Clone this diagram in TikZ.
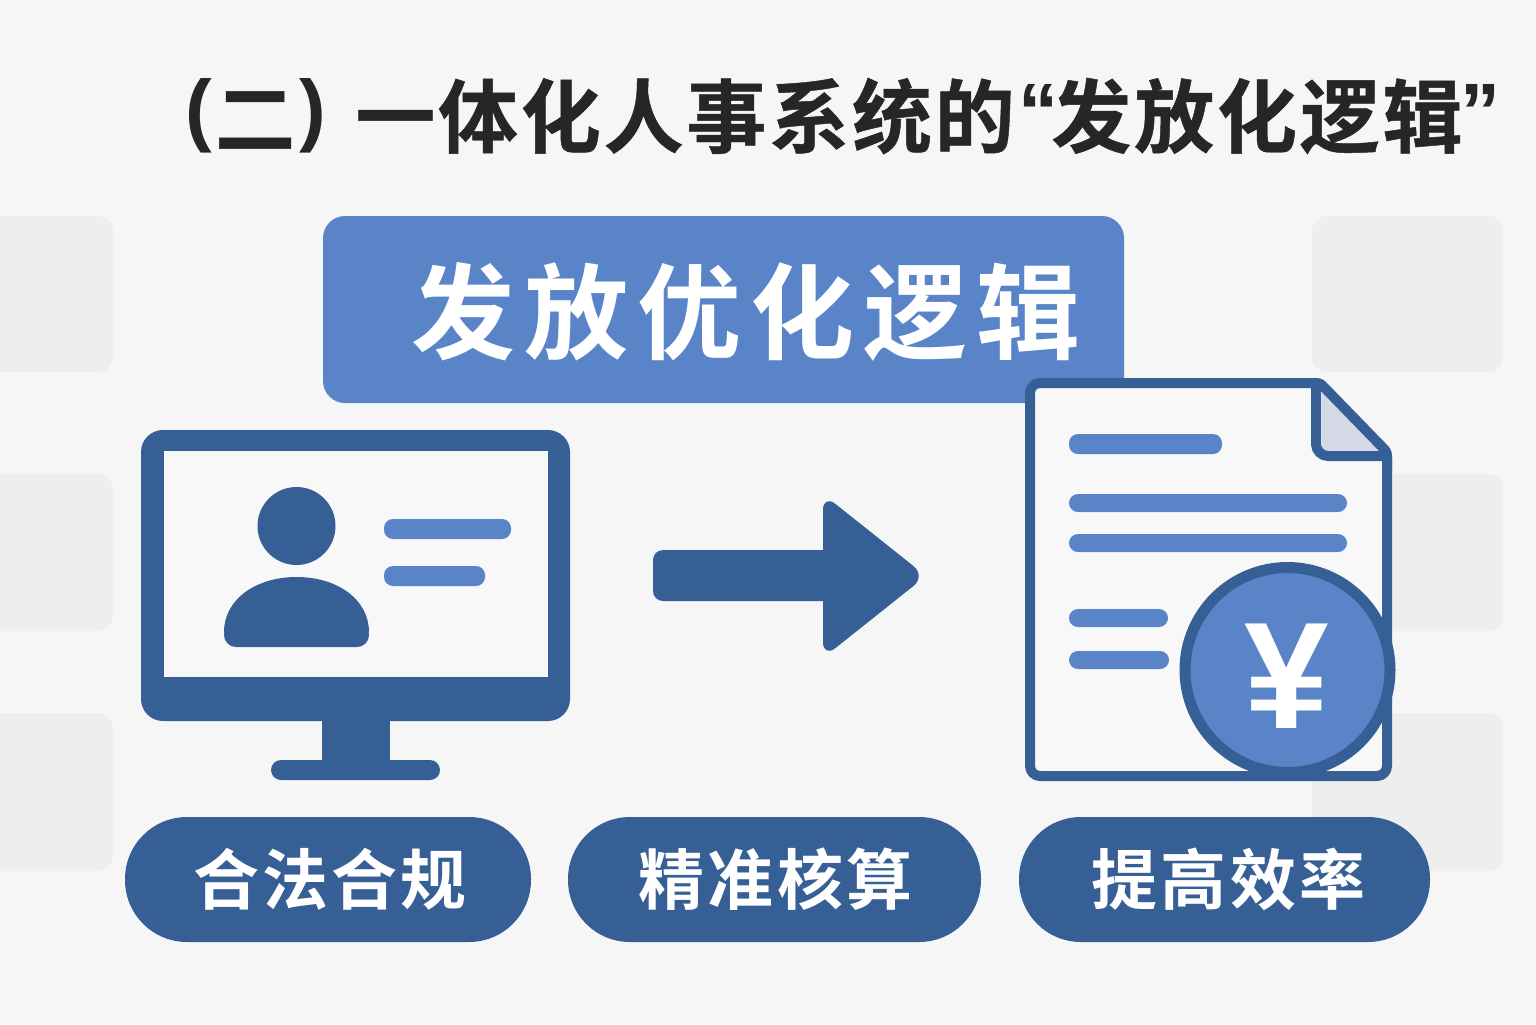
\documentclass[tikz,border=0pt]{standalone}
\usepackage{fontspec}
\setmainfont{Noto Sans CJK SC}[BoldFont={Noto Sans CJK SC Bold}]
\newfontfamily\cjkb{Noto Sans CJK SC Bold}
\newfontfamily\latb{Liberation Sans}
\definecolor{bgc}{HTML}{F6F6F6}
\definecolor{navy}{HTML}{365F96}
\definecolor{midblue}{HTML}{5A84C8}
\definecolor{ghost}{HTML}{EEEEEE}
\definecolor{titlec}{HTML}{262626}
\definecolor{foldc}{HTML}{D5D9E6}
\definecolor{paper}{HTML}{F8F8F8}
\tikzset{
  ghostbox/.style={fill=ghost,rounded corners=7.5pt},
  pill/.style={fill=navy,rounded corners=31pt,text=white,minimum height=62.5pt,inner sep=0pt},
  bar/.style={fill=midblue,rounded corners=4.5pt},
  titletext/.style={text=titlec,inner sep=0pt,anchor=center},
}
\newcommand{\ttlfont}{\fontsize{40pt}{40pt}\cjkb\addfontfeature{LetterSpace=3.5,FakeBold=0.6}}
\newcommand{\ttllat}{\fontsize{40pt}{40pt}\latb\bfseries}
\newcommand{\pillfont}{\fontsize{33pt}{33pt}\cjkb\addfontfeature{LetterSpace=5}}
\begin{document}
\begin{tikzpicture}[x=0.5pt,y=-0.5pt]
\useasboundingbox (0,0) rectangle (1536,1024);
\fill[bgc] (0,0) rectangle (1536,1024);
% ghost panels
\foreach \y/\h in {216/372,474/631,713/871}{
  \fill[ghostbox] (-30,\y) rectangle (113,\h);
  \fill[ghostbox] (1312,\y) rectangle (1503,\h);
}
% title
\node[titletext] (tp1) at (199,116) {\ttllat (};
\node[titletext] (t2) at (255,120) {\ttlfont 二};
\node[titletext] (tp2) at (313,116) {\ttllat )};
\node[titletext] (t3) at (685,116) {\ttlfont 一体化人事系统的};
\node[titletext] (tq1) at (1038,112) {\ttllat “};
\node[titletext] (t4) at (1257,116) {\ttlfont 发放化逻辑};
\node[titletext] (tq2) at (1480,112) {\ttllat ”};
% banner
\fill[midblue,rounded corners=11pt] (323,216) rectangle (1124,403);
\node[text=white,inner sep=0pt] (banner) at (746,312) {\fontsize{52pt}{52pt}\cjkb\addfontfeature{LetterSpace=8.6}发放优化逻辑};
% monitor
\fill[navy,rounded corners=11pt] (141,430) rectangle (570,721);
\fill[paper] (164,451) rectangle (548,677);
\fill[navy] (322,720) rectangle (390,762);
\fill[navy,rounded corners=5pt] (271,760) rectangle (440,780);
\fill[navy] (296.5,526) circle[radius=39];
\fill[navy] (224,632) .. controls (224,600) and (255,577) .. (296.5,577) .. controls (338,577) and (369,600) .. (369,632) -- cycle;
\fill[navy,rounded corners=6pt] (224,622) rectangle (369,647);
\fill[bar] (384,519) rectangle (511,539);
\fill[bar] (384,566) rectangle (485,586);
% arrow
\fill[navy,rounded corners=5pt] (653,550) rectangle (840,601);
\fill[navy,rounded corners=8pt] (823,494) -- (926,576) -- (823,658) -- cycle;
% document
\fill[paper] (1030,383) -- (1318,383) -- (1387,452) -- (1387,776) -- (1030,776) -- cycle;
\fill[foldc] (1322,392) -- (1380,451) -- (1322,451) -- cycle;
\draw[navy,line width=5pt,line join=round,rounded corners=5pt] (1316,383) -- (1030,383) -- (1030,776) -- (1387,776) -- (1387,458);
\draw[navy,line width=5pt,line join=round,rounded corners=1.5pt] (1310,383) -- (1320,383) -- (1387,452) -- (1387,470);
\draw[navy,line width=5pt,line join=round,rounded corners=6pt] (1316,383) -- (1316,456) -- (1387,456);
\fill[bar] (1069,434) rectangle (1222,454);
\fill[bar] (1069,494) rectangle (1347,512);
\fill[bar] (1069,534) rectangle (1347,552);
\fill[bar] (1069,609) rectangle (1168,627);
\fill[bar] (1069,651) rectangle (1169,669);
% coin
\draw[navy,line width=5.5pt,fill=midblue] (1287.5,670) circle[radius=102.5];
\node[text=white,inner sep=0pt] (yen) at (1287,676) {\fontsize{76pt}{76pt}\latb\bfseries ¥};
% pills
\node[pill,minimum width=203pt] (p1) at (328,879.5) {\kern2pt\pillfont 合法合规};
\node[pill,minimum width=206.5pt] (p2) at (774.5,879.5) {\kern1pt\pillfont 精准核算};
\node[pill,minimum width=205.5pt] (p3) at (1224.5,879.5) {\kern4pt\pillfont 提高效率};
\end{tikzpicture}
\end{document}
